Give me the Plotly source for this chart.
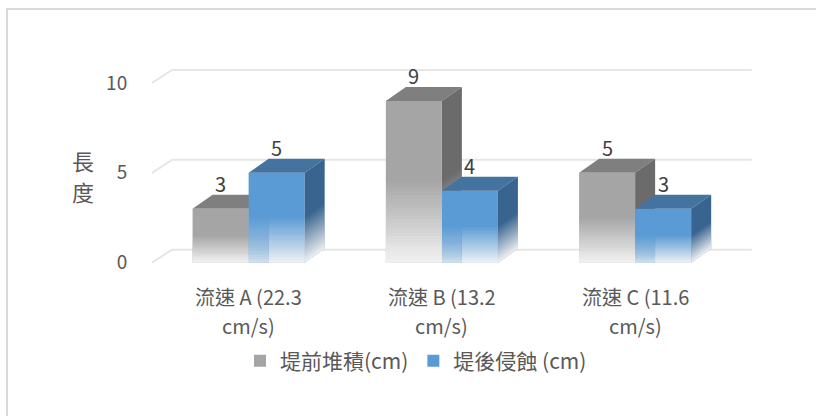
import plotly.graph_objects as go

# ---------------- data ----------------
categories = ["流速 A (22.3 cm/s)", "流速 B (13.2 cm/s)", "流速 C (11.6 cm/s)"]
series_names = ["堤前堆積(cm)", "堤後侵蝕 (cm)"]
deposit = [3, 9, 5]
erosion = [5, 4, 3]
y_ticks = [0, 5, 10]
axis_title = "長度"

# ---------------- style ----------------
W, H = 816, 416
L, R, T, B = 152, 63, 65, 147
XR = [-0.5, 2.61]
YR = [-0.35, 11]
PXX = (W - L - R) / (XR[1] - XR[0])
PXY = (H - T - B) / (YR[1] - YR[0])
DX = 20 / PXX          # depth offset (x units)
DY = 14 / PXY          # depth offset (y units)
GDY = 13 / PXY
BARGAP = 0.42
BW = (1 - BARGAP) / 2
FONT = "Noto Sans CJK TC"
TXT = "#595959"

front_cols = ["#a5a5a5", "#5b9bd5"]
top_cols = ["#7f7f7f", "#4473a0"]
side_cols = ["#6b6b6b", "#38648f"]
FADE = 0.5
NB = 24
AMAX = 0.92


def px2paper_x(px):
    return (px - L) / (W - L - R)


def px2paper_y(py):
    return (H - B - py) / (H - T - B)


def path(pts):
    return "M " + " L ".join(f"{x:.5f},{y:.5f}" for x, y in pts) + " Z"


shapes_below = []
shapes_above = []


def poly(lst, pts, color):
    lst.append(dict(type="path", path=path(pts), xref="x", yref="y",
                    fillcolor=color, line=dict(width=0),
                    layer="below" if lst is shapes_below else "above"))


# per-layer alphas for nested white overlays (smooth fade, no seams)
def target(j):
    return AMAX * (1 - j / NB)


nest_alpha = []
for j in range(NB):
    a = 1 - (1 - target(j)) / (1 - target(j + 1))
    nest_alpha.append(a)

# gridlines (back wall + slanted floor edge)
for t in y_ticks:
    for (x0, y0, x1, y1) in [(XR[0], t, XR[0] + DX, t + GDY),
                             (XR[0] + DX, t + GDY, 2.5 + DX, t + GDY)]:
        shapes_below.append(dict(type="line", xref="x", yref="y",
                                 x0=x0, y0=y0, x1=x1, y1=y1,
                                 line=dict(color="#e6e6e6", width=2),
                                 layer="below"))

series = [deposit, erosion]
fig = go.Figure()
annotations = []

for s, vals in enumerate(series):
    offs = -BW / 2 if s == 0 else BW / 2
    fig.add_trace(go.Bar(x=list(range(len(categories))), y=vals,
                         name=series_names[s],
                         marker=dict(color=front_cols[s], line=dict(width=0))))
    lst = shapes_below if s == 0 else shapes_above
    for i, v in enumerate(vals):
        xc = i + offs
        x0, x1 = xc - BW / 2, xc + BW / 2
        # top face
        poly(lst, [(x0, v), (x1, v), (x1 + DX, v + DY), (x0 + DX, v + DY)], top_cols[s])
        # side face
        poly(lst, [(x1, 0), (x1, v), (x1 + DX, v + DY), (x1 + DX, DY)], side_cols[s])
        fh = v * FADE
        # fade on side (nested)
        for k in range(NB):
            b = fh * (k + 1) / NB
            al = nest_alpha[k]
            poly(lst, [(x1, 0), (x1, b), (x1 + DX, b + DY), (x1 + DX, DY)],
                 f"rgba(255,255,255,{al:.4f})")
        # fade on front (nested)
        for k in range(NB):
            b = fh * (k + 1) / NB
            al = nest_alpha[k]
            if s == 1:
                poly(shapes_above, [(x0, 0), (x0 + DX, 0), (x0 + DX, b), (x0, b)],
                     f"rgba(255,255,255,{al * 0.6:.4f})")
                poly(shapes_above, [(x0 + DX, 0), (x1, 0), (x1, b), (x0 + DX, b)],
                     f"rgba(255,255,255,{al:.4f})")
            else:
                poly(shapes_above, [(x0, 0), (x1, 0), (x1, b), (x0, b)],
                     f"rgba(255,255,255,{al:.4f})")
        # data label
        annotations.append(dict(x=xc, y=v, xref="x", yref="y", text=str(v),
                                showarrow=False, yshift=25, yanchor="middle",
                                font=dict(family=FONT, size=20, color="#404040")))

# category labels (two lines, Excel-like spacing)
for i, c in enumerate(categories):
    l1, l2 = c.rsplit(" ", 1)
    for txt, sh in [(l1, -34), (l2, -63)]:
        annotations.append(dict(x=i, y=0, xref="x", yref="y", text=txt,
                                showarrow=False, yshift=sh, yanchor="middle",
                                font=dict(family=FONT, size=20, color=TXT)))

# axis title, stacked characters
for j, ch in enumerate(axis_title):
    annotations.append(dict(x=px2paper_x(83), y=px2paper_y(160 + 31 * j),
                            xref="paper", yref="paper", text=ch, showarrow=False,
                            xanchor="center", yanchor="middle",
                            font=dict(family=FONT, size=22, color=TXT)))

# chart border
border = dict(type="rect", xref="paper", yref="paper",
              x0=px2paper_x(7), y0=px2paper_y(H + 20),
              x1=px2paper_x(W + 20), y1=px2paper_y(9),
              line=dict(color="#d9d9d9", width=2), fillcolor="rgba(0,0,0,0)",
              layer="below")

fig.update_layout(
    width=W, height=H,
    margin=dict(l=L, r=R, t=T, b=B),
    paper_bgcolor="white", plot_bgcolor="white",
    barmode="group", bargap=BARGAP, bargroupgap=0,
    shapes=[border] + shapes_below + shapes_above,
    annotations=annotations,
    xaxis=dict(range=XR, showgrid=False, zeroline=False, showline=False,
               showticklabels=False, ticks=""),
    yaxis=dict(range=YR, tickvals=y_ticks, showgrid=False, zeroline=False,
               showline=False, ticks="outside", ticklen=20,
               tickcolor="rgba(0,0,0,0)",
               tickfont=dict(family=FONT, size=19, color=TXT)),
    legend=dict(orientation="h", x=px2paper_x(240), xanchor="left",
                y=px2paper_y(361), yanchor="middle",
                font=dict(family=FONT, size=21, color=TXT),
                itemwidth=30, traceorder="normal"),
    showlegend=True,
    font=dict(family=FONT, color=TXT),
)

fig.write_html("out.html")
